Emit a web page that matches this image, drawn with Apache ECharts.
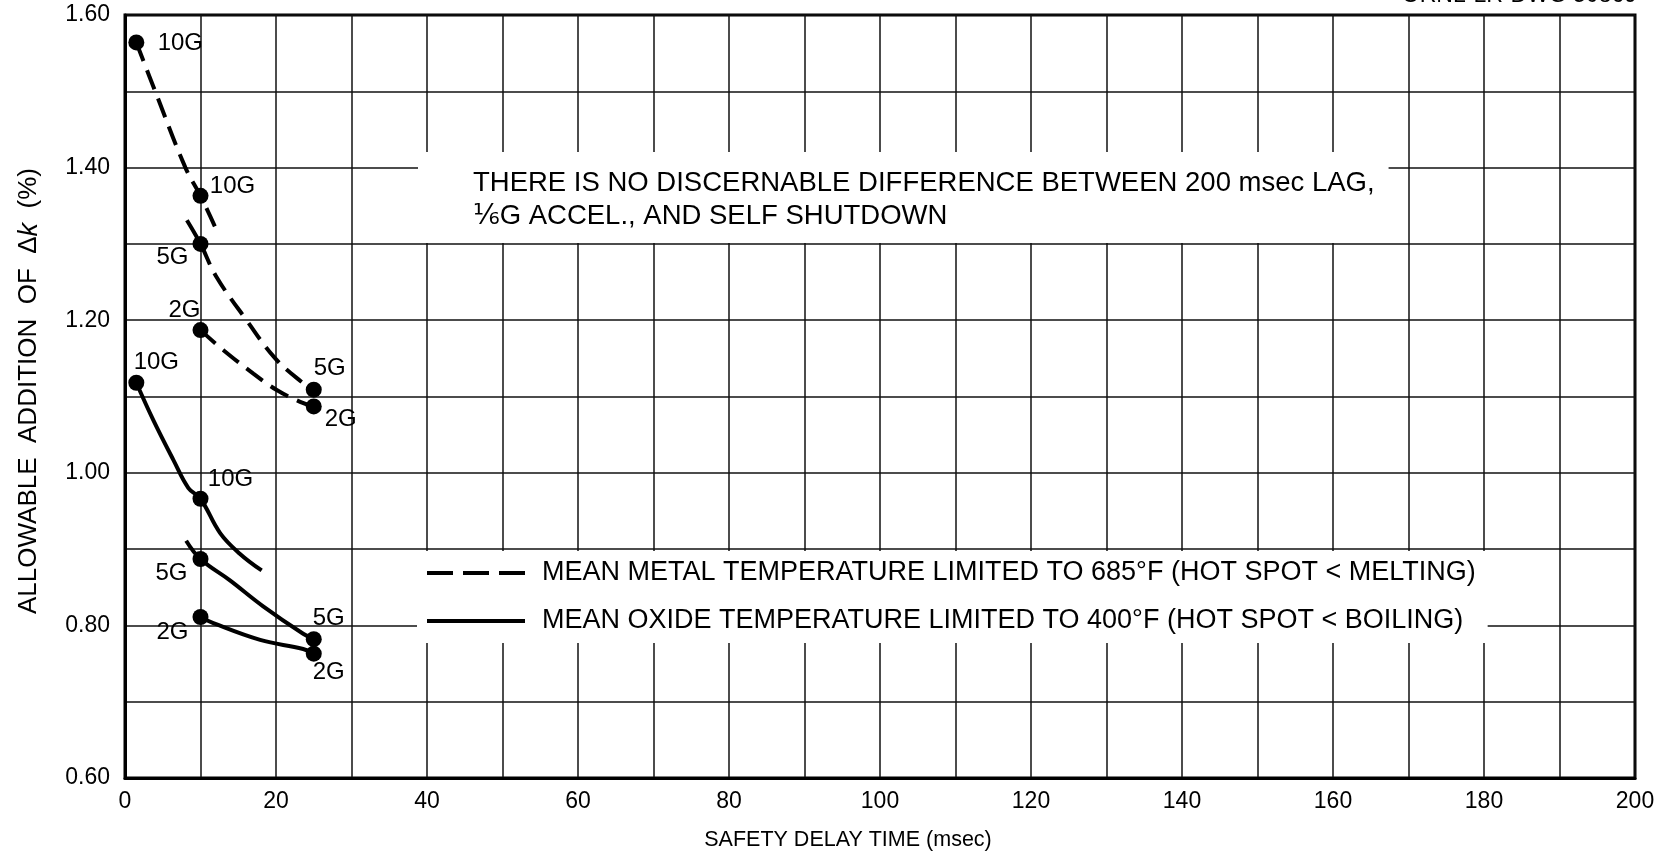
<!DOCTYPE html>
<html>
<head>
<meta charset="utf-8">
<script src="https://cdn.jsdelivr.net/npm/echarts@6/dist/echarts.min.js"></script>
<style>
html,body{margin:0;padding:0;background:#fff;}
#chart{width:1673px;height:852px;}
</style>
</head>
<body>
<div id="chart"></div>
<script>
// ---- data ----
const xTickLabels = [0, 20, 40, 60, 80, 100, 120, 140, 160, 180, 200];
const yTickLabels = ['0.60', '0.80', '1.00', '1.20', '1.40', '1.60'];

const metalName = 'MEAN METAL TEMPERATURE LIMITED TO 685°F (HOT SPOT < MELTING)';
const oxideName = 'MEAN OXIDE TEMPERATURE LIMITED TO 400°F (HOT SPOT < BOILING)';

// dashed curves (mean metal temperature limit)
const metal10G = [[1.5, 1.564], [4.0, 1.50], [8.0, 1.40], [10, 1.363], [11.9, 1.323]];
const metal5G  = [[8.2, 1.331], [10, 1.300], [12.1, 1.257], [16.1, 1.200], [19.9, 1.150], [23.4, 1.119], [25, 1.109]];
const metal2G  = [[10, 1.187], [13, 1.161], [17, 1.130], [20.1, 1.1085], [23.2, 1.093], [25, 1.087]];
// solid curves (mean oxide temperature limit)
const oxide10G = [[1.5, 1.118], [3.75, 1.069], [6.4, 1.017], [8.4, 0.980], [10, 0.966], [12.6, 0.921], [15.2, 0.894], [18.1, 0.872]];
const oxide5G  = [[8.1, 0.911], [10, 0.887], [13.9, 0.859], [18.3, 0.825], [23.6, 0.789], [25, 0.782]];
const oxide2G  = [[10, 0.811], [11.7, 0.803], [17.9, 0.781], [23.6, 0.769], [25, 0.763]];

// plotted points
const pointX = [1.5, 10, 10, 10, 25, 25, 1.5, 10, 10, 10, 25, 25];
const pointY = [1.564, 1.363, 1.300, 1.187, 1.109, 1.087, 1.118, 0.966, 0.887, 0.811, 0.782, 0.763];
const pointLabels = ['10G', '10G', '5G', '2G', '5G', '2G', '10G', '10G', '5G', '2G', '5G', '2G'];

// ---- styling (label placement relative to dot centre, px) ----
const labelOffsets = [[44, 1], [32, -9], [-28, 13], [-16, -20], [16, -21], [27, 13],
                      [20, -20], [30, -19], [-29, 14], [-28, 15], [15, -21], [15, 19]];

const FONT = '"Liberation Sans", "DejaVu Sans", sans-serif';
const chart = echarts.init(document.getElementById('chart'), null, {renderer: 'canvas'});

function curve(name, data, dashed) {
  return {
    name: name, type: 'line', data: data, smooth: 0.4, symbol: 'none',
    lineStyle: {color: '#000', width: 4, type: dashed ? [20, 10] : 'solid'},
    itemStyle: {color: '#000'}, z: 3, silent: true
  };
}

const dots = pointX.map((x, i) => ({
  value: [x, pointY[i]],
  label: {
    show: true, formatter: pointLabels[i], position: 'inside',
    offset: labelOffsets[i], align: 'center', verticalAlign: 'middle',
    color: '#000', fontSize: 24, fontFamily: FONT, opacity: 1
  }
}));

const option = {
  animation: false,
  backgroundColor: '#fff',
  grid: {left: 125, right: 38, top: 15, bottom: 74, show: true, borderColor: '#000', borderWidth: 3},
  xAxis: {
    type: 'value', min: 0, max: 200, interval: 10,
    axisLine: {show: true, lineStyle: {color: '#000', width: 3}},
    axisTick: {show: false},
    splitLine: {show: true, lineStyle: {color: '#111', width: 1.5}},
    axisLabel: {
      color: '#000', fontSize: 23, fontFamily: FONT, margin: 12,
      formatter: v => xTickLabels.some(t => Math.abs(t - v) < 1e-6) ? String(Math.round(v)) : ''
    }
  },
  yAxis: {
    type: 'value', min: 0.6, max: 1.6, interval: 0.1,
    axisLine: {show: true, lineStyle: {color: '#000', width: 3}},
    axisTick: {show: false},
    splitLine: {show: true, lineStyle: {color: '#111', width: 1.5}},
    axisLabel: {
      color: '#000', fontSize: 23, fontFamily: FONT, margin: 15,
      formatter: v => {
        const t = yTickLabels.find(l => Math.abs(parseFloat(l) - v) < 1e-6);
        return t || '';
      }
    }
  },
  legend: {
    orient: 'vertical', left: 417, top: 551,
    itemWidth: 98, itemHeight: 4, itemGap: 20,
    backgroundColor: '#fff', padding: [8, 12, 8, 10],
    textStyle: {color: '#000', fontSize: 27, lineHeight: 28, fontFamily: FONT, padding: [0, 0, 0, 12]},
    data: [
      {name: metalName, icon: 'path://M0,0h26v4h-26zM36,0h26v4h-26zM72,0h26v4h-26z'},
      {name: oxideName, icon: 'path://M0,0h98v4h-98z'}
    ],
    itemStyle: {color: '#000'},
    selectedMode: false
  },
  series: [
    curve(metalName, metal10G, true),
    curve(metalName, metal5G, true),
    curve(metalName, metal2G, true),
    curve(oxideName, oxide10G, false),
    curve(oxideName, oxide5G, false),
    curve(oxideName, oxide2G, false),
    {
      name: 'points', type: 'scatter', data: dots, symbol: 'circle', symbolSize: 16,
      itemStyle: {color: '#000', opacity: 1}, z: 5, silent: true
    }
  ],
  graphic: [
    {
      type: 'text', left: 418, top: 152, z: 10,
      style: {
        text: 'THERE IS NO DISCERNABLE DIFFERENCE BETWEEN 200 msec LAG,\n⅙G ACCEL., AND SELF SHUTDOWN',
        fill: '#000', fontSize: 27.5, fontFamily: FONT, lineHeight: 33,
        backgroundColor: '#fff', padding: [15, 14, 10, 55]
      }
    },
    {
      type: 'text', x: 29, y: 391, rotation: Math.PI / 2, z: 10,
      style: {
        text: 'ALLOWABLE  ADDITION  OF  Δ{i|k}  (%)',
        fill: '#000', fontSize: 26, fontFamily: FONT, align: 'center', verticalAlign: 'middle',
        rich: {i: {fontStyle: 'italic', fontSize: 27, fontFamily: FONT, fill: '#000'}}
      }
    },
    {
      type: 'text', x: 848, y: 840, z: 10,
      style: {
        text: 'SAFETY DELAY TIME (msec)', fill: '#000', fontSize: 21.5, fontFamily: FONT,
        align: 'center', verticalAlign: 'middle'
      }
    },
    {
      type: 'text', x: 1637, y: -4, z: 10,
      style: {
        text: 'ORNL-LR-DWG 50869', fill: '#000', fontSize: 23, fontFamily: FONT,
        align: 'right', verticalAlign: 'middle'
      }
    }
  ]
};
chart.setOption(option);
</script>
</body>
</html>
